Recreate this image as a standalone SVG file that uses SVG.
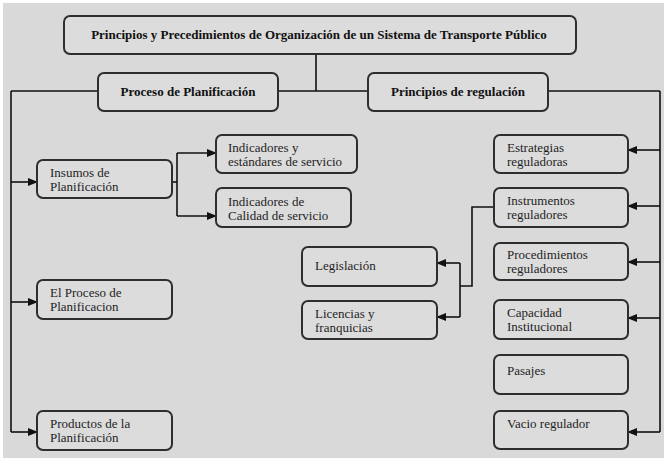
<svg xmlns="http://www.w3.org/2000/svg" width="664" height="463" viewBox="0 0 664 463" font-family="'Liberation Serif', 'Times New Roman', serif">
<style>
.box{fill:#dcdcdc;stroke:#2e2e2e;stroke-width:2}
.ln{fill:none;stroke:#111;stroke-width:1.6}
.t{font-family:'Liberation Serif','Times New Roman',serif;font-size:13px;fill:#1e1e1e}
.b{font-family:'Liberation Serif','Times New Roman',serif;font-size:13px;font-weight:bold;fill:#111;text-anchor:middle}
</style>
<defs>
<marker id="ah" markerWidth="10" markerHeight="8" refX="9" refY="4" orient="auto" markerUnits="userSpaceOnUse">
<path d="M0,0 L10,4 L0,8 Z" fill="#111"/>
</marker>
</defs>
<rect x="0" y="0" width="664" height="463" fill="#ffffff"/>
<rect x="3" y="3" width="661" height="455" fill="#d9d9d9"/>
<g id="connectors">
<path class="ln" d="M316,54 V91"/>
<path class="ln" d="M11,91 H660"/>
<path class="ln" d="M11,91 V432"/>
<path class="ln" d="M11,182 H37" marker-end="url(#ah)"/>
<path class="ln" d="M11,302 H37" marker-end="url(#ah)"/>
<path class="ln" d="M11,432 H37" marker-end="url(#ah)"/>
<path class="ln" d="M172,182 H177"/>
<path class="ln" d="M177,153 V216"/>
<path class="ln" d="M177,153 H216" marker-end="url(#ah)"/>
<path class="ln" d="M177,216 H216" marker-end="url(#ah)"/>
<path class="ln" d="M660,91 V432"/>
<path class="ln" d="M660,150 H628" marker-end="url(#ah)"/>
<path class="ln" d="M660,206 H628" marker-end="url(#ah)"/>
<path class="ln" d="M660,262 H628" marker-end="url(#ah)"/>
<path class="ln" d="M660,318 H628" marker-end="url(#ah)"/>
<path class="ln" d="M660,432 H628" marker-end="url(#ah)"/>
<path class="ln" d="M494,207 H472 V286 H460"/>
<path class="ln" d="M460,263 V317"/>
<path class="ln" d="M460,263 H437" marker-end="url(#ah)"/>
<path class="ln" d="M460,317 H437" marker-end="url(#ah)"/>
</g>
<g id="title">
<rect class="box" x="64" y="16" width="512" height="38" rx="6"/>
<text class="b" x="319" y="39">Principios y Precedimientos de Organización de un Sistema de Transporte Público</text>
</g>
<g id="proceso">
<rect class="box" x="98" y="73" width="180" height="38" rx="6"/>
<text class="b" x="188" y="96">Proceso de Planificación</text>
</g>
<g id="principios">
<rect class="box" x="368" y="73" width="180" height="38" rx="6"/>
<text class="b" x="458" y="96">Principios de regulación</text>
</g>
<g id="insumos">
<rect class="box" x="37" y="160" width="135" height="38" rx="6"/>
<text class="t" x="50" y="177">Insumos de</text>
<text class="t" x="50" y="191">Planificación</text>
</g>
<g id="ind-estandares">
<rect class="box" x="216" y="135" width="141" height="38" rx="6"/>
<text class="t" x="228" y="152">Indicadores y</text>
<text class="t" x="228" y="166">estándares de servicio</text>
</g>
<g id="ind-calidad">
<rect class="box" x="216" y="188" width="135" height="39" rx="6"/>
<text class="t" x="228" y="206">Indicadores de</text>
<text class="t" x="228" y="220">Calidad de servicio</text>
</g>
<g id="el-proceso">
<rect class="box" x="37" y="280" width="135" height="39" rx="6"/>
<text class="t" x="50" y="297">El Proceso de</text>
<text class="t" x="50" y="311">Planificacion</text>
</g>
<g id="productos">
<rect class="box" x="37" y="411" width="135" height="39" rx="6"/>
<text class="t" x="50" y="428">Productos de la</text>
<text class="t" x="50" y="442">Planificación</text>
</g>
<g id="legislacion">
<rect class="box" x="302" y="247" width="135" height="39" rx="6"/>
<text class="t" x="315" y="270">Legislación</text>
</g>
<g id="licencias">
<rect class="box" x="302" y="301" width="135" height="38" rx="6"/>
<text class="t" x="315" y="318">Licencias y</text>
<text class="t" x="315" y="332">franquicias</text>
</g>
<g id="estrategias">
<rect class="box" x="494" y="135" width="134" height="38" rx="6"/>
<text class="t" x="507" y="152">Estrategias</text>
<text class="t" x="507" y="166">reguladoras</text>
</g>
<g id="instrumentos">
<rect class="box" x="494" y="188" width="134" height="39" rx="6"/>
<text class="t" x="507" y="205">Instrumentos</text>
<text class="t" x="507" y="219">reguladores</text>
</g>
<g id="procedimientos">
<rect class="box" x="494" y="243" width="134" height="37" rx="6"/>
<text class="t" x="507" y="259">Procedimientos</text>
<text class="t" x="507" y="273">reguladores</text>
</g>
<g id="capacidad">
<rect class="box" x="494" y="300" width="134" height="39" rx="6"/>
<text class="t" x="507" y="317">Capacidad</text>
<text class="t" x="507" y="331">Institucional</text>
</g>
<g id="pasajes">
<rect class="box" x="494" y="355" width="134" height="39" rx="6"/>
<text class="t" x="507" y="375">Pasajes</text>
</g>
<g id="vacio">
<rect class="box" x="494" y="411" width="134" height="38" rx="6"/>
<text class="t" x="507" y="428">Vacio regulador</text>
</g>
</svg>
